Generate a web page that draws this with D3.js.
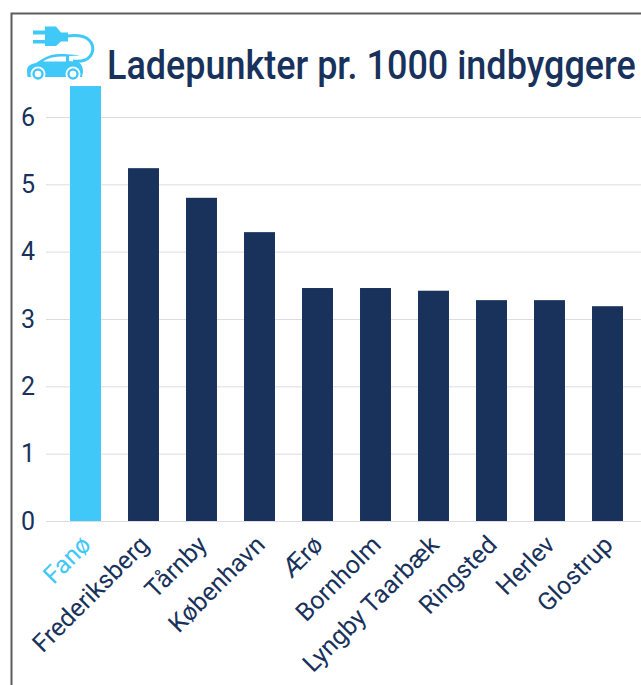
<!DOCTYPE html>
<html>
<head>
<meta charset="utf-8">
<script src="https://cdnjs.cloudflare.com/ajax/libs/d3/7.8.5/d3.min.js"></script>
<style>
html, body { margin: 0; padding: 0; background: #fff; }
svg { display: block; }
text { font-family: "Roboto", "Noto Sans", sans-serif; }
</style>
</head>
<body>
<div id="chart"></div>
<script>
var categories = ["Fanø", "Frederiksberg", "Tårnby", "København", "Ærø", "Bornholm", "Lyngby Taarbæk", "Ringsted", "Herlev", "Glostrup"];
var values = [6.46, 5.24, 4.80, 4.29, 3.46, 3.46, 3.42, 3.28, 3.28, 3.19];
var yTicks = [0, 1, 2, 3, 4, 5, 6];
var titleText = "Ladepunkter pr. 1000 indbyggere";

var navy = "#18325c", sky = "#40c8f8", grid = "#dcdce6";
var width = 641, height = 685;

var svg = d3.select("#chart").append("svg")
    .attr("width", width)
    .attr("height", height);

// frame, open on the right and at the bottom
svg.append("path")
    .attr("d", "M11.5,685V13.5H641")
    .attr("fill", "none")
    .attr("stroke", "#5c5c5c")
    .attr("stroke-width", 2);

var x = d3.scaleBand()
    .domain(categories)
    .range([56.5, 636.5])
    .paddingInner(0.466)
    .paddingOuter(0.233);

var y = d3.scaleLinear()
    .domain([0, 6])
    .range([521, 117]);

var yAxis = d3.axisLeft(y).tickValues(yTicks).tickFormat(d3.format("d")).tickSize(-595);
var gy = svg.append("g")
    .attr("class", "y-axis")
    .attr("transform", "translate(46,0)")
    .call(yAxis);
gy.select(".domain").remove();
gy.selectAll(".tick line").attr("stroke", grid).attr("stroke-width", 1);
gy.selectAll(".tick text")
    .attr("fill", navy)
    .attr("font-size", 25)
    .attr("x", -11);

svg.selectAll("rect.bar")
    .data(categories)
    .enter().append("rect")
    .attr("class", "bar")
    .attr("x", function(d) { return x(d); })
    .attr("width", x.bandwidth())
    .attr("y", function(d, i) { return y(values[i]); })
    .attr("height", function(d, i) { return y(0) - y(values[i]); })
    .attr("fill", function(d, i) { return i == 0 ? sky : navy; });

var xAxis = d3.axisBottom(x).tickSize(0);
var gx = svg.append("g")
    .attr("class", "x-axis")
    .attr("transform", "translate(0,521)")
    .call(xAxis);
gx.select(".domain").remove();
gx.selectAll(".tick text")
    .attr("fill", function(d, i) { return i == 0 ? sky : navy; })
    .attr("font-size", 25)
    .attr("text-anchor", "end")
    .attr("x", -13)
    .attr("y", 14)
    .attr("dy", "0.35em")
    .attr("transform", "rotate(-45)");

// title is squeezed sideways to the reference width, the font is wider than the original
var title = svg.append("text")
    .attr("fill", navy)
    .attr("font-size", 41)
    .attr("font-weight", 500)
    .text(titleText);
title.attr("transform", "translate(107,79) scale(" + (529 / title.node().getComputedTextLength()) + ",1)");

// charging car icon
var icon = svg.append("g").attr("class", "icon");
icon.append("path")
    .attr("fill", sky)
    .attr("d", "M33,30.5H45V26.5H56L61,32.5H68V41.5H61L56,46H45V43.5H33V40H45V34.5H33Z");
icon.append("path")
    .attr("fill", "none")
    .attr("stroke", sky)
    .attr("stroke-width", 3)
    .attr("d", "M67,36C76,35 84,35 89,40C95,46 94,56 85,60C81,61.5 77,61.5 73,61");
icon.append("path")
    .attr("fill", sky)
    .attr("d", "M27,71C27,66 30,64 36,63C42,59 49,54 60,54C66,54 74,54.5 80,55.5L69,56L69,61L78,62C82,64 83,68 83,72L82,77H27.5Z");
icon.append("path")
    .attr("fill", "#fff")
    .attr("d", "M43,61.5C48,58 52,56.5 66,56.5V61.5Z");
[38, 73].forEach(function(cx) {
    icon.append("circle").attr("cx", cx).attr("cy", 74).attr("r", 7.5).attr("fill", "#fff");
    icon.append("circle").attr("cx", cx).attr("cy", 74).attr("r", 4.5).attr("fill", "#fff").attr("stroke", sky).attr("stroke-width", 2.4);
});
</script>
</body>
</html>
